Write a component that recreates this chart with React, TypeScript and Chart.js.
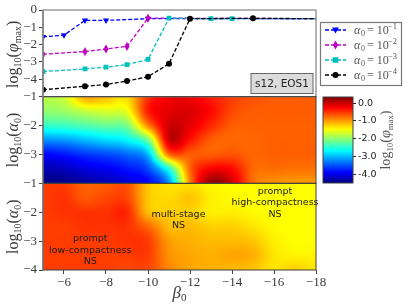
import React, { useEffect, useRef } from "react";
import { Chart, registerables } from "chart.js";

Chart.register(...registerables);

const betaGrid = [-5, -6, -7, -8, -9, -10, -11, -12, -13, -14, -15, -16, -17, -18];
const alphaGrid = [-1, -1.5, -2, -2.5, -3, -3.5, -4];

const collapseMap = [
  [-1.8, -1.7, -1.05, -1.15, -1.3, -0.5, -0.2, -0.2, -0.4, -0.55, -0.65, -0.7, -0.7, -0.7],
  [-2.0, -1.95, -1.75, -1.65, -1.55, -0.4, -0.15, -0.1, -0.3, -0.6, -0.7, -0.7, -0.7, -0.7],
  [-2.45, -2.4, -2.3, -2.2, -2.1, -0.9, -0.05, -0.15, -0.45, -0.7, -0.72, -0.72, -0.72, -0.72],
  [-3.2, -3.15, -3.0, -2.85, -2.7, -2.1, -0.05, -0.35, -0.7, -0.75, -0.75, -0.72, -0.72, -0.72],
  [-3.9, -3.8, -3.65, -3.55, -3.4, -3.0, -0.8, -0.7, -0.7, -0.65, -0.75, -0.72, -0.72, -0.72],
  [-4.25, -4.2, -4.05, -3.95, -3.8, -3.55, -2.5, -0.75, -0.25, -0.3, -0.75, -0.78, -0.8, -0.8],
  [-4.5, -4.45, -4.35, -4.25, -4.1, -3.9, -3.2, -0.9, 0.25, -0.05, -0.8, -0.95, -1.0, -1.0],
];

const outcomeMap = [
  [-0.55, -0.55, -0.72, -0.7, -0.65, -1.2, -1.35, -1.35, -1.45, -1.47, -1.47, -1.47, -1.47, -1.47],
  [-0.55, -0.5, -0.68, -0.6, -0.6, -1.2, -1.3, -1.2, -1.4, -1.45, -1.47, -1.47, -1.47, -1.47],
  [-0.55, -0.5, -0.5, -0.5, -0.45, -1.15, -1.25, -1.25, -1.4, -1.4, -1.45, -1.47, -1.47, -1.47],
  [-0.55, -0.55, -0.5, -0.5, -0.5, -0.75, -1.15, -1.15, -1.25, -1.25, -1.35, -1.45, -1.47, -1.47],
  [-0.55, -0.55, -0.55, -0.55, -0.5, -0.55, -1.0, -1.1, -1.15, -1.15, -1.2, -1.4, -1.47, -1.47],
  [-0.55, -0.55, -0.55, -0.55, -0.55, -0.55, -0.95, -1.05, -1.1, -1.05, -1.1, -1.35, -1.42, -1.42],
  [-0.55, -0.55, -0.55, -0.55, -0.6, -0.6, -0.9, -1.05, -1.1, -1.15, -1.2, -1.35, -1.25, -1.35],
];

const betaBlue = [-5, -6, -7, -8, -10, -18];
const phiBlue = [-1.55, -1.45, -0.6, -0.6, -0.5, -0.5];
const betaMagenta = [-5, -7, -8, -9, -10, -18];
const phiMagenta = [-2.55, -2.4, -2.25, -2.1, -0.47, -0.5];
const betaCyan = [-5, -7, -8, -9, -10, -11, -13, -14, -18];
const phiCyan = [-3.55, -3.4, -3.3, -3.15, -2.85, -0.47, -0.5, -0.5, -0.5];
const betaBlack = [-5, -7, -8, -9, -10, -11, -12, -15, -18];
const phiBlack = [-4.6, -4.4, -4.3, -4.1, -3.85, -3.1, -0.5, -0.48, -0.5];

const legendExponents = ["\u22121", "\u22122", "\u22123", "\u22124"];
const colorbarTicks = [0, -1, -2, -3, -4];
const colorMin = -4.5;
const colorMax = 0.34;
const tagLabel = "s12, EOS1";
const notes = [
  { lines: ["prompt", "low-compactness", "NS"], beta: -7.25, alpha: -3.31 },
  { lines: ["multi-stage", "NS"], beta: -11.45, alpha: -2.27 },
  { lines: ["prompt", "high-compactness", "NS"], beta: -16.05, alpha: -1.67 },
];

const SERIF = '"Liberation Serif", "DejaVu Serif", serif';
const SANS = '"DejaVu Sans", sans-serif';
const INK = "#3a3a3a";

type Seg = [string, number, number, boolean?];
const phiTitle: Seg[] = [["log", 16, 0], ["10", 10, 3], ["(", 16, 0], ["\u03c6", 16, 0, true], ["max", 10, 3], [")", 16, 0]];
const alphaTitle: Seg[] = [["log", 16, 0], ["10", 10, 3], ["(", 16, 0], ["\u03b1", 16, 0, true], ["0", 10, 3], [")", 16, 0]];
const betaTitle: Seg[] = [["\u03b2", 17, 0, true], ["0", 11, 3]];

function drawMixed(ctx: CanvasRenderingContext2D, segs: Seg[], cx: number, cy: number, rotated: boolean, color: string, k = 1) {
  ctx.save();
  ctx.translate(cx, cy);
  if (rotated) ctx.rotate(-Math.PI / 2);
  ctx.fillStyle = color;
  ctx.textAlign = "left";
  ctx.textBaseline = "alphabetic";
  const fontOf = (s: Seg) => `${s[3] ? "italic " : ""}${s[1] * k}px ${SERIF}`;
  let w = 0;
  segs.forEach((s) => {
    ctx.font = fontOf(s);
    w += ctx.measureText(s[0]).width;
  });
  let x = -w / 2;
  segs.forEach((s) => {
    ctx.font = fontOf(s);
    ctx.fillText(s[0], x, 5 * k + s[2] * k);
    x += ctx.measureText(s[0]).width;
  });
  ctx.restore();
}

function jet(t: number): [number, number, number] {
  const c = (x: number) => Math.max(0, Math.min(1, x));
  return [
    255 * c(Math.min(4 * t - 1.5, 4.5 - 4 * t)),
    255 * c(Math.min(4 * t - 0.5, 3.5 - 4 * t)),
    255 * c(Math.min(4 * t + 0.5, 2.5 - 4 * t)),
  ];
}
const colorOf = (v: number) => jet((v - colorMin) / (colorMax - colorMin));

function catmull(a: number, b: number, c: number, d: number, t: number) {
  return 0.5 * (2 * b + (c - a) * t + (2 * a - 5 * b + 4 * c - d) * t * t + (3 * b - a - 3 * c + d) * t * t * t);
}

function sample(grid: number[][], fx: number, fy: number) {
  const nx = grid[0].length;
  const ny = grid.length;
  const cl = (i: number, n: number) => Math.max(0, Math.min(n - 1, i));
  const ix = Math.floor(fx);
  const iy = Math.floor(fy);
  const tx = fx - ix;
  const ty = fy - iy;
  const r: number[] = [];
  for (let j = -1; j <= 2; j++) {
    const row = grid[cl(iy + j, ny)];
    r.push(catmull(row[cl(ix - 1, nx)], row[cl(ix, nx)], row[cl(ix + 1, nx)], row[cl(ix + 2, nx)], tx));
  }
  return catmull(r[0], r[1], r[2], r[3], ty);
}

function paintMap(chart: any, yId: string, grid: number[][]) {
  const xs = chart.scales.x;
  const ys = chart.scales[yId];
  const left = Math.round(xs.left);
  const right = Math.round(xs.right);
  const top = Math.round(ys.top);
  const bottom = Math.round(ys.bottom);
  const img = chart.ctx.createImageData(right - left, bottom - top);
  for (let py = top; py < bottom; py++) {
    const a = ys.getValueForPixel(py + 0.5);
    const fy = (alphaGrid[0] - a) / (alphaGrid[0] - alphaGrid[1]);
    for (let px = left; px < right; px++) {
      const b = xs.getValueForPixel(px + 0.5);
      const fx = betaGrid[0] - b;
      const [r, g, bl] = colorOf(sample(grid, fx, fy));
      const k = 4 * ((py - top) * (right - left) + px - left);
      img.data[k] = r;
      img.data[k + 1] = g;
      img.data[k + 2] = bl;
      img.data[k + 3] = 255;
    }
  }
  chart.ctx.putImageData(img, left, top);
}

const mapsPlugin = {
  id: "maps",
  beforeDatasetsDraw(chart: any) {
    paintMap(chart, "yA", collapseMap);
    paintMap(chart, "yB", outcomeMap);
  },
};

const overlayPlugin = {
  id: "overlay",
  afterDraw(chart: any) {
    const { ctx, scales } = chart;
    const xs = scales.x;
    const l = xs.left;
    const r = xs.right;
    ctx.save();
    // frames
    ctx.strokeStyle = "#8c8c8c";
    ctx.lineWidth = 1.3;
    ctx.strokeRect(l, scales.yTop.top, r - l, scales.yTop.bottom - scales.yTop.top);
    ctx.strokeStyle = "#404040";
    ctx.lineWidth = 1;
    ctx.strokeRect(l, scales.yA.top, r - l, scales.yA.bottom - scales.yA.top);
    ctx.strokeRect(l, scales.yB.top, r - l, scales.yB.bottom - scales.yB.top);
    ctx.strokeStyle = "#7a7a7a";
    ctx.lineWidth = 1.3;
    ctx.beginPath();
    ctx.moveTo(l, scales.yTop.top);
    ctx.lineTo(l, scales.yB.bottom);
    ctx.stroke();

    // axis titles
    drawMixed(ctx, phiTitle, 13, (scales.yTop.top + scales.yTop.bottom) / 2 + 1, true, INK);
    drawMixed(ctx, alphaTitle, 13, (scales.yA.top + scales.yA.bottom) / 2, true, INK);
    drawMixed(ctx, alphaTitle, 13, (scales.yB.top + scales.yB.bottom) / 2, true, INK);
    drawMixed(ctx, betaTitle, (l + r) / 2, 293, false, INK);

    // annotations
    ctx.fillStyle = "#1a1a1a";
    ctx.font = `9.5px ${SANS}`;
    ctx.textAlign = "center";
    ctx.textBaseline = "middle";
    notes.forEach((n) => {
      const cx = xs.getPixelForValue(n.beta);
      const cy = scales.yB.getPixelForValue(n.alpha);
      n.lines.forEach((line, i) => {
        ctx.fillText(line, cx, cy + (i - (n.lines.length - 1) / 2) * 11.5);
      });
    });

    // tag box
    ctx.fillStyle = "#dcdcdc";
    ctx.strokeStyle = "#666";
    ctx.lineWidth = 1;
    ctx.fillRect(251, 73.5, 62, 20);
    ctx.strokeRect(251, 73.5, 62, 20);
    ctx.fillStyle = "#222";
    ctx.font = `10.5px ${SANS}`;
    ctx.fillText(tagLabel, 282, 84);

    // legend
    ctx.fillStyle = "#fff";
    ctx.strokeStyle = "#777";
    ctx.lineWidth = 1.2;
    ctx.fillRect(320.5, 22.5, 81, 63);
    ctx.strokeRect(320.5, 22.5, 81, 63);
    chart.data.datasets.forEach((ds: any, i: number) => {
      const y = 30 + i * 15;
      ctx.strokeStyle = ds.borderColor;
      ctx.lineWidth = ds.borderWidth;
      ctx.setLineDash(ds.borderDash);
      ctx.beginPath();
      ctx.moveTo(325, y);
      ctx.lineTo(346, y);
      ctx.stroke();
      ctx.setLineDash([]);
      ctx.fillStyle = ds.borderColor;
      drawMarker(ctx, ds.markerName, 335.5, y);
      ctx.fillStyle = "#555";
      ctx.textAlign = "left";
      ctx.textBaseline = "alphabetic";
      const by = y + 3.5;
      ctx.font = `italic 12px ${SERIF}`;
      ctx.fillText("\u03b1", 354, by);
      ctx.font = `8px ${SERIF}`;
      ctx.fillText("0", 361, by + 2);
      ctx.font = `12px ${SERIF}`;
      ctx.fillText("= 10", 367, by);
      ctx.font = `8.5px ${SERIF}`;
      ctx.fillText(legendExponents[i], 388, by - 4.5);
    });
    ctx.restore();
  },
};

function drawMarker(ctx: CanvasRenderingContext2D, style: string, x: number, y: number) {
  ctx.beginPath();
  if (style === "circle") {
    ctx.arc(x, y, 3, 0, Math.PI * 2);
  } else if (style === "rect") {
    ctx.rect(x - 2.8, y - 2.8, 5.6, 5.6);
  } else if (style === "diamond") {
    ctx.moveTo(x, y - 4.4);
    ctx.lineTo(x + 2.6, y);
    ctx.lineTo(x, y + 4.4);
    ctx.lineTo(x - 2.6, y);
    ctx.closePath();
  } else {
    ctx.moveTo(x, y + 3.4);
    ctx.lineTo(x + 3.4, y - 2.6);
    ctx.lineTo(x - 3.4, y - 2.6);
    ctx.closePath();
  }
  ctx.fill();
}

function diamondImage(color: string) {
  const c = document.createElement("canvas");
  c.width = 10;
  c.height = 10;
  const g = c.getContext("2d") as CanvasRenderingContext2D;
  g.fillStyle = color;
  drawMarker(g, "diamond", 5, 5);
  return c;
}

const colorbarPlugin = {
  id: "colorbar",
  beforeDatasetsDraw(chart: any) {
    const { ctx, chartArea, scales } = chart;
    for (let py = Math.round(chartArea.top); py < Math.round(chartArea.bottom); py++) {
      const [r, g, b] = colorOf(scales.y.getValueForPixel(py + 0.5));
      ctx.fillStyle = `rgb(${r},${g},${b})`;
      ctx.fillRect(chartArea.left, py, chartArea.right - chartArea.left, 1);
    }
  },
  afterDraw(chart: any) {
    const { ctx, chartArea } = chart;
    ctx.save();
    ctx.strokeStyle = "#404040";
    ctx.lineWidth = 1;
    ctx.strokeRect(chartArea.left, chartArea.top, chartArea.right - chartArea.left, chartArea.bottom - chartArea.top);
    ctx.restore();
    drawMixed(ctx, phiTitle, 386, (chartArea.top + chartArea.bottom) / 2, true, "#555", 0.88);
  },
};

function series(beta: number[], phi: number[]) {
  return beta.map((x, i) => ({ x, y: phi[i] }));
}
const noEnd = (n: number, r: number) => Array.from({ length: n }, (_, i) => (i === n - 1 ? 0 : r));

function lineSet(label: string, beta: number[], phi: number[], color: string, markerName: string, style: any, r: number, order: number, rot = 0) {
  return {
    label,
    markerName,
    data: series(beta, phi),
    yAxisID: "yTop",
    borderColor: color,
    backgroundColor: color,
    pointBackgroundColor: color,
    pointBorderColor: color,
    pointBorderWidth: 0,
    pointStyle: style,
    pointRotation: rot,
    pointRadius: noEnd(beta.length, r),
    borderWidth: 1.3,
    borderDash: [4, 2],
    tension: 0,
    order,
  };
}

const yScale = (min: number, max: number, hidden: number) => ({
  type: "linear",
  position: "left",
  stack: "v",
  stackWeight: 1,
  min,
  max,
  afterFit: (s: any) => {
    s.width = 43;
  },
  afterBuildTicks: (s: any) => {
    const t = [];
    for (let v = max; v >= min; v--) t.push({ value: v });
    s.ticks = t;
  },
  ticks: {
    color: INK,
    font: { family: SERIF, size: 13 },
    padding: 2,
    autoSkip: false,
    maxRotation: 0,
    callback: (v: number) => (v === hidden ? "" : v === 0 ? "0" : "\u2212" + Math.abs(v)),
  },
  grid: { drawOnChartArea: false, drawTicks: true, tickLength: 4, tickColor: "#444", tickWidth: 1 },
  border: { display: false },
});

export default function App() {
  const mainRef = useRef<HTMLCanvasElement>(null);
  const barRef = useRef<HTMLCanvasElement>(null);
  useEffect(() => {
    const main = new Chart(mainRef.current as HTMLCanvasElement, {
      type: "line",
      data: {
        datasets: [
          lineSet("blue", betaBlue, phiBlue, "#0000ff", "triangle", "triangle", 3.6, 3, 180),
          lineSet("magenta", betaMagenta, phiMagenta, "#c000c0", "diamond", diamondImage("#c000c0"), 3.4, 2),
          lineSet("cyan", betaCyan, phiCyan, "#00bfbf", "rect", "rect", 3.4, 1),
          lineSet("black", betaBlack, phiBlack, "#000000", "circle", "circle", 3, 0),
        ] as any,
      },
      options: {
        animation: false,
        responsive: false,
        layout: { padding: { top: 10, right: 91, left: 0, bottom: 0 } },
        plugins: { legend: { display: false }, tooltip: { enabled: false } },
        scales: {
          x: {
            type: "linear",
            reverse: true,
            min: -18,
            max: -5,
            afterFit: (s: any) => {
              s.height = 37;
            },
            ticks: {
              stepSize: 2,
              includeBounds: false,
              color: INK,
              font: { family: SERIF, size: 13 },
              padding: 1,
              maxRotation: 0,
              callback: (v: number) => "\u2212" + Math.abs(v),
            },
            grid: { drawOnChartArea: false, tickLength: 4, tickColor: "#444" },
            border: { display: false },
          },
          yB: yScale(-4, -1, 99),
          yA: yScale(-4, -1, -4),
          yTop: yScale(-5, 0, -5),
        } as any,
      },
      plugins: [mapsPlugin, overlayPlugin],
    });
    const bar = new Chart(barRef.current as HTMLCanvasElement, {
      type: "scatter",
      data: { datasets: [] },
      options: {
        animation: false,
        responsive: false,
        layout: { padding: { top: 97, right: 0, left: 323, bottom: 124 } },
        plugins: { legend: { display: false }, tooltip: { enabled: false } },
        scales: {
          x: { display: false, min: 0, max: 1 },
          y: {
            position: "right",
            min: colorMin,
            max: colorMax,
            afterFit: (s: any) => {
              s.width = 54;
            },
            afterBuildTicks: (s: any) => {
              s.ticks = colorbarTicks.map((value) => ({ value }));
            },
            ticks: {
              color: "#222",
              font: { family: SANS, size: 9.5 },
              padding: 2,
              crossAlign: "near",
              callback: (v: number) => v.toFixed(1),
            },
            grid: { drawOnChartArea: false, tickLength: 3, tickColor: "#222" },
            border: { display: false },
          },
        } as any,
      },
      plugins: [colorbarPlugin],
    });
    return () => {
      main.destroy();
      bar.destroy();
    };
  }, []);
  const style: React.CSSProperties = { position: "absolute", left: 0, top: 0 };
  return (
    <div style={{ position: "absolute", left: 0, top: 0, width: 407, height: 307 }}>
      <canvas ref={mainRef} width={407} height={307} style={style} />
      <canvas ref={barRef} width={407} height={307} style={style} />
    </div>
  );
}
